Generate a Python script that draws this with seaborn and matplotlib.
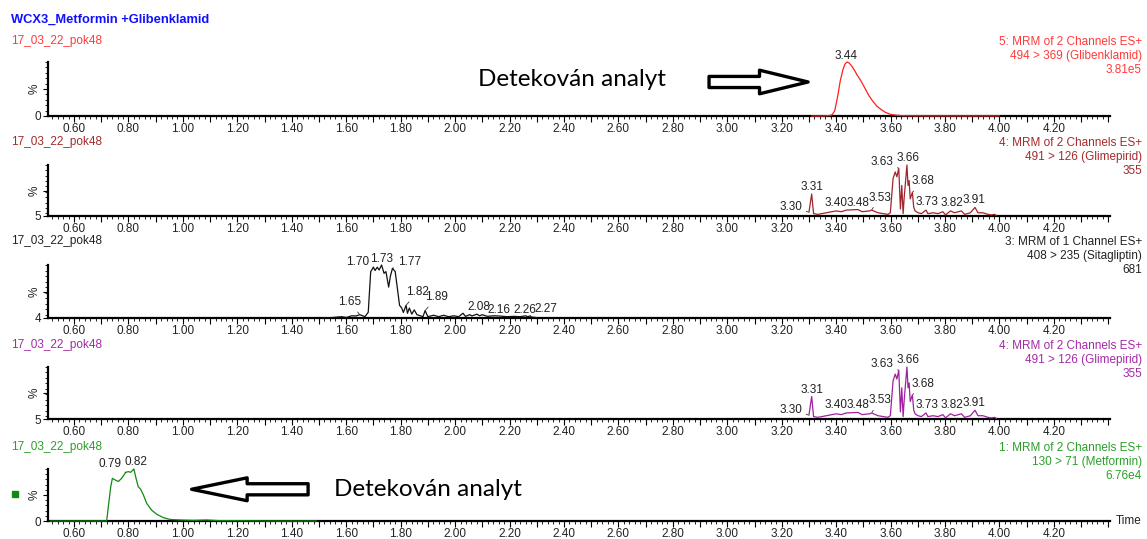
import matplotlib
matplotlib.use("Agg")
import matplotlib.pyplot as plt
from matplotlib.ticker import MultipleLocator, FuncFormatter, FixedLocator
from matplotlib.patches import Rectangle
import numpy as np
import pandas as pd
import seaborn as sns

# ---------------------------------------------------------------- data
title = "WCX3_Metformin +Glibenklamid"
sample = "17_03_22_pok48"
annotation_text = "Detekován analyt"

# Glibenklamid channel (494 > 369), relative intensity in %
glib_t = [3.31, 3.34, 3.37, 3.385, 3.395, 3.405, 3.415, 3.425, 3.432, 3.44,
          3.448, 3.458, 3.468, 3.478, 3.49, 3.505, 3.52, 3.535, 3.55, 3.565,
          3.58, 3.60, 3.62, 3.65, 3.70, 3.80, 3.90, 4.00]
glib_pct = [0, 0, 0.5, 2, 10, 35, 65, 86, 96, 100,
            98, 92, 84, 75, 66, 52, 38, 27, 18, 12,
            7, 3, 1.5, 0.5, 0.3, 0.2, 0.2, 0.2]
glib_peaks = [3.44]

# Glimepirid channel (491 > 126)
glim_t = [3.300, 3.310, 3.317, 3.333, 3.364, 3.400, 3.419, 3.437, 3.480, 3.495,
          3.523, 3.530, 3.554, 3.590, 3.599, 3.609, 3.617, 3.623, 3.630, 3.636,
          3.641, 3.646, 3.650, 3.660, 3.664, 3.668, 3.672, 3.680, 3.685, 3.690,
          3.701, 3.713, 3.730, 3.737, 3.756, 3.774, 3.792, 3.802, 3.820, 3.835,
          3.860, 3.872, 3.893, 3.910, 3.921, 3.939, 3.958, 3.970, 3.982, 3.989]
glim_pct = [12, 46, 9.4, 8, 11, 14.5, 13, 16, 17, 13,
            14.5, 16, 11, 8, 11, 74.6, 87, 78, 94, 18,
            62, 9.4, 40, 100, 62, 71, 37, 49, 21, 14.5,
            11, 9.4, 16, 9.4, 11, 9.4, 13, 7, 14.5, 11,
            14.5, 8, 11, 21, 11, 11, 8, 7, 8, 6]
glim_peaks = [3.30, 3.31, 3.40, 3.48, 3.53, 3.63, 3.66, 3.68, 3.73, 3.82, 3.91]

# Sitagliptin channel (408 > 235)
sita_t = [1.510, 1.553, 1.583, 1.601, 1.620, 1.636, 1.650, 1.669, 1.681, 1.690,
          1.700, 1.706, 1.714, 1.721, 1.730, 1.739, 1.746, 1.756, 1.762, 1.770,
          1.780, 1.789, 1.796, 1.804, 1.810, 1.820, 1.825, 1.832, 1.841, 1.850,
          1.860, 1.872, 1.882, 1.890, 1.900, 1.921, 1.940, 1.958, 1.976, 1.995,
          2.013, 2.029, 2.038, 2.054, 2.062, 2.080, 2.090, 2.100, 2.118, 2.142,
          2.160, 2.191, 2.216, 2.240, 2.260, 2.265, 2.270, 2.285, 2.296, 2.302]
sita_pct = [4, 5, 6.4, 5, 8, 7.7, 10, 6.4, 14.4, 88,
            96, 90, 96, 91, 100, 85, 88, 60, 79, 94,
            88, 54, 27, 22, 14, 27, 12.6, 22, 11, 18.7,
            10, 8, 6.4, 17.5, 6.4, 9, 6.4, 9, 6.4, 8,
            6.4, 12.6, 7, 10, 7.7, 11, 8, 10, 7, 8,
            7.7, 6.4, 7, 6.4, 8, 6.4, 7, 5.5, 5, 4]
sita_peaks = [1.65, 1.70, 1.73, 1.77, 1.82, 1.89, 2.08, 2.16, 2.26, 2.27]

# Metformin channel (130 > 71)
metf_t = [0.512, 0.600, 0.700, 0.720, 0.726, 0.735, 0.741, 0.751, 0.763, 0.775,
          0.790, 0.800, 0.808, 0.820, 0.828, 0.836, 0.845, 0.855, 0.867, 0.885,
          0.904, 0.928, 0.953, 0.989, 1.038, 1.087, 1.136, 1.185, 1.307, 1.491]
metf_pct = [0, 0, 0, 0, 27, 66, 82, 79, 76, 82,
            93.5, 95, 93.5, 100, 82, 66, 61, 50, 34, 21,
            13, 6.5, 3, 2, 1.3, 2, 0.6, 0.6, 0, 0]
metf_peaks = [0.79, 0.82]

channel_info = [
    ["5: MRM of 2 Channels ES+", "494 > 369 (Glibenklamid)", "3.81e5"],
    ["4: MRM of 2 Channels ES+", "491 > 126 (Glimepirid)", "355"],
    ["3: MRM of 1 Channel ES+", "408 > 235 (Sitagliptin)", "681"],
    ["4: MRM of 2 Channels ES+", "491 > 126 (Glimepirid)", "355"],
    ["1: MRM of 2 Channels ES+", "130 > 71 (Metformin)", "6.76e4"],
]
y_floor = [0, 5, 4, 5, 0]

# ---------------------------------------------------------------- styling
sns.set_theme(style="ticks")
plt.rcParams["font.family"] = ["Liberation Sans", "DejaVu Sans"]

W, H = 1147, 539
fig = plt.figure(figsize=(W / 100, H / 100), dpi=100)
fig.patch.set_facecolor("white")

FS = 8.5  # base text size


def fx(px):
    return px / W


def fy(py):
    return 1 - py / H


# (top, bottom) pixel rows of each trace panel and the row of its header
panel_rows = [(62, 116), (165, 216), (265, 318), (367, 419), (469, 521)]
header_rows = [41, 142, 241, 345, 447]
trace_colors = ["#ff1f1f", "#a3232a", "#111111", "#a020a0", "#108a10"]
text_colors = ["#ff3a3a", "#a52a2a", "#222222", "#a52aa5", "#2aa02a"]
XL, XR = 48, 1110
XMIN, XMAX = 0.5045, 4.406

# leader-label offsets in points (dx, dy, draw a leader line)
glim_offsets = [(-13, 4, True), (0, 5, False), (0, 6, False), (0, 5, False),
                (6, 9, True), (-12, 4.5, True), (0.5, 5, False), (7.5, 8, True),
                (0.5, 5.5, False), (0.7, 6, False), (-0.5, 5.3, False)]
sita_offsets = [(-7.5, 9, True), (-11.5, 3.8, True), (0, 4.2, False),
                (12, 4.3, True), (8.2, 9.6, True), (8.4, 9.6, True),
                (1.2, 5.3, False), (0, 4.6, False), (-0.7, 4.3, False),
                (12.5, 5, True)]
metf_offsets = [(-11.5, 6.2, True), (1.2, 5, False)]
glib_offsets = [(-0.5, 4.3, False)]

traces = [
    (glib_t, glib_pct, glib_peaks, glib_offsets),
    (glim_t, glim_pct, glim_peaks, glim_offsets),
    (sita_t, sita_pct, sita_peaks, sita_offsets),
    (glim_t, glim_pct, glim_peaks, glim_offsets),
    (metf_t, metf_pct, metf_peaks, metf_offsets),
]


def x_label(v, pos):
    k = int(round(v * 10))
    if k % 2 == 0 and v < 4.3:
        return f"{v:.2f}"
    return ""


axes = []
for i, ((top, bot), (t, pct, peaks, offs)) in enumerate(zip(panel_rows, traces)):
    ax = fig.add_axes([fx(XL), fy(bot), fx(XR) - fx(XL), (bot - top) / H])
    axes.append(ax)
    ax.set_facecolor("white")
    df = pd.DataFrame({"t": t, "pct": pct})
    sns.lineplot(data=df, x="t", y="pct", ax=ax, color=trace_colors[i],
                 lw=0.9, estimator=None, sort=False)
    for ln in ax.lines:
        ln.set_clip_on(False)
        ln.set_zorder(3)
    lo = y_floor[i]
    ax.set_xlim(XMIN, XMAX)
    ax.set_ylim(lo, 100)
    ax.set_xlabel("")
    ax.set_ylabel("")
    ax.grid(False)
    sns.despine(ax=ax)
    for s in ("left", "bottom"):
        ax.spines[s].set_linewidth(1.6)
        ax.spines[s].set_color("black")

    ax.xaxis.set_major_locator(MultipleLocator(0.1))
    ax.xaxis.set_minor_locator(MultipleLocator(0.02))
    ax.xaxis.set_major_formatter(FuncFormatter(x_label))
    ax.tick_params(axis="x", which="major", length=4, width=0.8, direction="out",
                   labelsize=FS, pad=1.2, color="black", labelcolor="#222222")
    ax.tick_params(axis="x", which="minor", length=2.2, width=0.6, direction="out",
                   color="black")

    mid = (lo + 100) / 2
    ax.yaxis.set_major_locator(FixedLocator([lo, mid]))
    ax.set_yticklabels([str(lo), "%"])
    ax.get_yticklabels()[1].set_rotation(90)
    ax.get_yticklabels()[1].set_va("center")
    ax.yaxis.set_minor_locator(MultipleLocator(10))
    ax.tick_params(axis="y", which="major", length=3.5, width=0.8, direction="out",
                   labelsize=FS, pad=1.5, color="black", labelcolor="#222222")
    ax.tick_params(axis="y", which="minor", length=2, width=0.6, direction="out",
                   color="black")

    # retention-time labels on the peaks
    lookup = dict(zip(np.round(t, 3), pct))
    for pk, (dx, dy, leader) in zip(peaks, offs):
        val = lookup[round(pk, 3)]
        kw = dict(arrowprops=dict(arrowstyle="-", lw=0.6, color="#333333",
                                  shrinkA=0.5, shrinkB=0.5)) if leader else {}
        ax.annotate(f"{pk:.2f}", xy=(pk, val), xytext=(dx, dy),
                    textcoords="offset points", ha="center", va="center",
                    fontsize=FS, color="#222222", annotation_clip=False, **kw)

    # sample name and channel description
    fig.text(fx(11), fy(header_rows[i]), sample, fontsize=FS,
             color=text_colors[i], ha="left", va="center")
    fig.text(fx(1142), fy(header_rows[i] - 5), "\n".join(channel_info[i]),
             fontsize=FS, color=text_colors[i], ha="right", va="top",
             linespacing=1.2, multialignment="right")

fig.text(fx(11), fy(20), title, fontsize=9.3, fontweight="bold",
         color="#1010ff", ha="left", va="center")

axes[-1].text(1.005, 0, "Time", transform=axes[-1].transAxes, fontsize=FS,
              ha="left", va="center", color="#222222")

# hollow block arrows pointing at the detected analytes
arrow_style = "simple,head_length=3.5,head_width=1.7,tail_width=0.8"
axes[0].annotate("", xy=(3.297, 63), xytext=(2.933, 63),
                 arrowprops=dict(arrowstyle=arrow_style, fc="white", ec="black",
                                 lw=2.4, shrinkA=0, shrinkB=0, mutation_scale=10),
                 annotation_clip=False)
axes[0].text(2.43, 68, annotation_text, fontsize=17.5, family=["Lato", "DejaVu Sans"],
             ha="center", va="center", color="black")

arrow_style2 = "simple,head_length=4.0,head_width=1.65,tail_width=0.8"
axes[4].annotate("", xy=(1.032, 61), xytext=(1.46, 61),
                 arrowprops=dict(arrowstyle=arrow_style2, fc="white", ec="black",
                                 lw=2.4, shrinkA=0, shrinkB=0, mutation_scale=10),
                 annotation_clip=False)
axes[4].text(1.90, 61, annotation_text, fontsize=17.5, family=["Lato", "DejaVu Sans"],
             ha="center", va="center", color="black")

# small legend square beside the metformin trace
fig.add_artist(Rectangle((fx(12), fy(497)), 6 / W, 6 / H,
                         transform=fig.transFigure, color="#108a10"))

fig.savefig("out.png", dpi=100)
